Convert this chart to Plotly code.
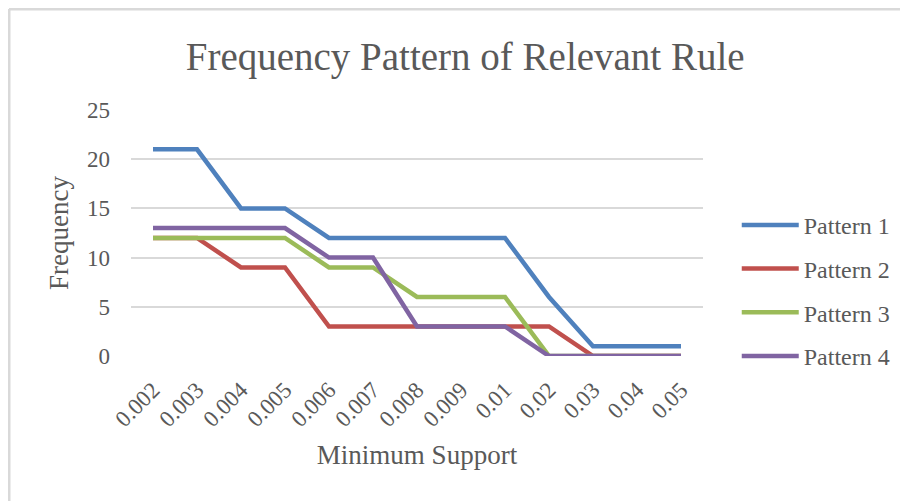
import plotly.graph_objects as go

categories = ["0.002", "0.003", "0.004", "0.005", "0.006", "0.007", "0.008",
              "0.009", "0.01", "0.02", "0.03", "0.04", "0.05"]
pattern1 = [21, 21, 15, 15, 12, 12, 12, 12, 12, 6, 1, 1, 1]
pattern2 = [12, 12, 9, 9, 3, 3, 3, 3, 3, 3, 0, 0, 0]
pattern3 = [12, 12, 12, 12, 9, 9, 6, 6, 6, 0, 0, 0, 0]
pattern4 = [13, 13, 13, 13, 10, 10, 3, 3, 3, 0, 0, 0, 0]
series_names = ["Pattern 1", "Pattern 2", "Pattern 3", "Pattern 4"]
colors = ["#4F81BD", "#C0504D", "#9BBB59", "#8064A2"]

FONT = "Liberation Serif, Times New Roman, serif"
GREY = "#595959"

fig = go.Figure()
for name, vals, col in zip(series_names, [pattern1, pattern2, pattern3, pattern4], colors):
    fig.add_trace(go.Scatter(
        x=categories, y=vals, mode="lines", name=name, legendgroup=name,
        line=dict(color=col, width=4.5),
    ))

fig.update_layout(
    width=900, height=493,
    paper_bgcolor="white", plot_bgcolor="white",
    margin=dict(l=123, r=205, t=102, b=145, autoexpand=False),
    font=dict(family=FONT, color=GREY, size=23),
    title=dict(text="Frequency Pattern of Relevant Rule", x=0.508, xanchor="center",
               y=0.902, yanchor="middle", font=dict(size=39, color=GREY, family=FONT)),
    xaxis=dict(type="category", range=[-0.5, 12.5], tickangle=-45, showgrid=False,
               showline=False, ticks="", zeroline=False, automargin=False,
               ticklabelstandoff=15,
               tickfont=dict(size=23, color=GREY),
               title=dict(text="Minimum Support", font=dict(size=27, color=GREY), standoff=14)),
    yaxis=dict(range=[0, 25], dtick=5, showgrid=True, gridcolor="#D9D9D9", gridwidth=1.5,
               zeroline=False, showline=False, ticks="", ticklabelstandoff=20,
               automargin=False,
               tickfont=dict(size=23, color=GREY),
               title=dict(text="Frequency", font=dict(size=27, color=GREY), standoff=10)),
    legend=dict(x=1.059, xanchor="left", y=0.265, yanchor="middle", tracegroupgap=9.5,
                itemwidth=57, font=dict(size=24, color=GREY), bgcolor="rgba(0,0,0,0)"),
    showlegend=True,
)

fig.add_shape(type="line", xref="paper", yref="paper", x0=-0.2133, x1=1.36, y0=1.4106, y1=1.4106,
              line=dict(color="#D9D9D9", width=3), layer="below")
fig.add_shape(type="line", xref="paper", yref="paper", x0=-0.2133, x1=-0.2133, y0=-0.6, y1=1.4106,
              line=dict(color="#D9D9D9", width=3), layer="below")

fig.write_html("out.html")
